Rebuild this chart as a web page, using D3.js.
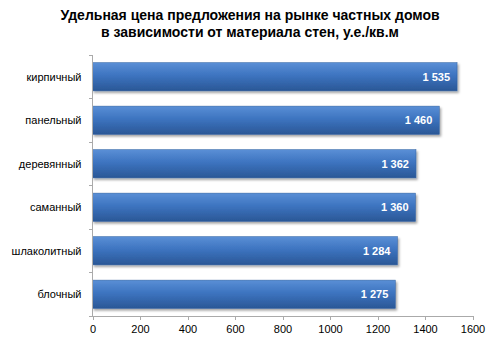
<!DOCTYPE html>
<meta charset="utf-8">
<style>
body { margin: 0; background: #fff; }
svg { font-family: Arial, "Liberation Sans", sans-serif; }
.axis path, .axis line { fill: none; stroke: #aaa; shape-rendering: crispEdges; }
.axis text { font-size: 11px; fill: #000; }
.title { font-size: 14px; font-weight: bold; fill: #000; }
.value { font-size: 11px; font-weight: bold; fill: #fff; }
</style>
<body>
<script src="https://d3js.org/d3.v7.min.js"></script>
<script>

var width = 500;
var height = 352;

var categories = ['кирпичный', 'панельный', 'деревянный', 'саманный', 'шлаколитный', 'блочный'];
var prices = [1535, 1460, 1362, 1360, 1284, 1275];
var xTicks = [0, 200, 400, 600, 800, 1000, 1200, 1400, 1600];
var titleLines = ['Удельная цена предложения на рынке частных домов', 'в зависимости от материала стен, у.е./кв.м'];

var data = categories.map((c, i) => ({ name: c, value: prices[i] }));

var margin = { top: 55, right: 27.5, bottom: 36, left: 92.5 };

var svg = d3.select('body')
  .append('svg')
  .attr('width', width)
  .attr('height', height);

var defs = svg.append('defs');
var grad = defs.append('linearGradient')
  .attr('id', 'barGrad')
  .attr('x1', 0).attr('y1', 0).attr('x2', 0).attr('y2', 1);
grad.append('stop').attr('offset', '0%').attr('stop-color', '#5a8fd6');
grad.append('stop').attr('offset', '45%').attr('stop-color', '#3d74c0');
grad.append('stop').attr('offset', '100%').attr('stop-color', '#2a5796');

var shadow = defs.append('filter').attr('id', 'shadow')
  .attr('x', '-5%').attr('y', '-20%').attr('width', '110%').attr('height', '150%');
shadow.append('feDropShadow')
  .attr('dx', 1.5).attr('dy', 2).attr('stdDeviation', 1.2)
  .attr('flood-color', '#000').attr('flood-opacity', 0.35);

var x = d3.scaleLinear()
  .domain([0, 1600])
  .range([margin.left, width - margin.right]);

var y = d3.scaleBand()
  .domain(categories)
  .range([margin.top, height - margin.bottom])
  .paddingInner(0.35)
  .paddingOuter(0.175);

// title
svg.append('g')
  .selectAll('text')
  .data(titleLines)
  .enter()
  .append('text')
  .attr('class', 'title')
  .attr('x', 250)
  .attr('y', (d, i) => 20 + i * 17)
  .attr('text-anchor', 'middle')
  .text(d => d);

// bars
svg.append('g')
  .selectAll('rect')
  .data(data)
  .enter()
  .append('rect')
  .attr('x', x(0))
  .attr('y', d => y(d.name))
  .attr('width', d => x(d.value) - x(0))
  .attr('height', y.bandwidth())
  .attr('fill', 'url(#barGrad)')
  .attr('stroke', '#2f5f9f')
  .attr('stroke-width', 0.5)
  .attr('filter', 'url(#shadow)');

// value labels
svg.append('g')
  .selectAll('text')
  .data(data)
  .enter()
  .append('text')
  .attr('class', 'value')
  .attr('x', d => x(d.value) - 7)
  .attr('y', d => y(d.name) + y.bandwidth() / 2)
  .attr('dy', '0.35em')
  .attr('text-anchor', 'end')
  .text(d => d3.format(',')(d.value).replace(',', ' '));

// x axis
svg.append('g')
  .attr('class', 'axis')
  .attr('transform', 'translate(0,' + (height - margin.bottom) + ')')
  .call(d3.axisBottom(x).tickValues(xTicks).tickSizeOuter(0).tickSize(4).tickPadding(5).tickFormat(d3.format('d')));

// y axis with ticks between categories
var yAxis = svg.append('g')
  .attr('class', 'axis')
  .attr('transform', 'translate(' + margin.left + ',0)');
yAxis.append('line')
  .attr('x1', 0).attr('x2', 0)
  .attr('y1', margin.top).attr('y2', height - margin.bottom);
yAxis.selectAll('.sep')
  .data(d3.range(categories.length + 1))
  .enter()
  .append('line')
  .attr('class', 'sep')
  .attr('x1', -4).attr('x2', 0)
  .attr('y1', i => margin.top + i * y.step())
  .attr('y2', i => margin.top + i * y.step());
yAxis.selectAll('text')
  .data(categories)
  .enter()
  .append('text')
  .attr('x', -11)
  .attr('y', d => y(d) + y.bandwidth() / 2)
  .attr('dy', '0.35em')
  .attr('text-anchor', 'end')
  .text(d => d);

</script>
</body>
</html>
